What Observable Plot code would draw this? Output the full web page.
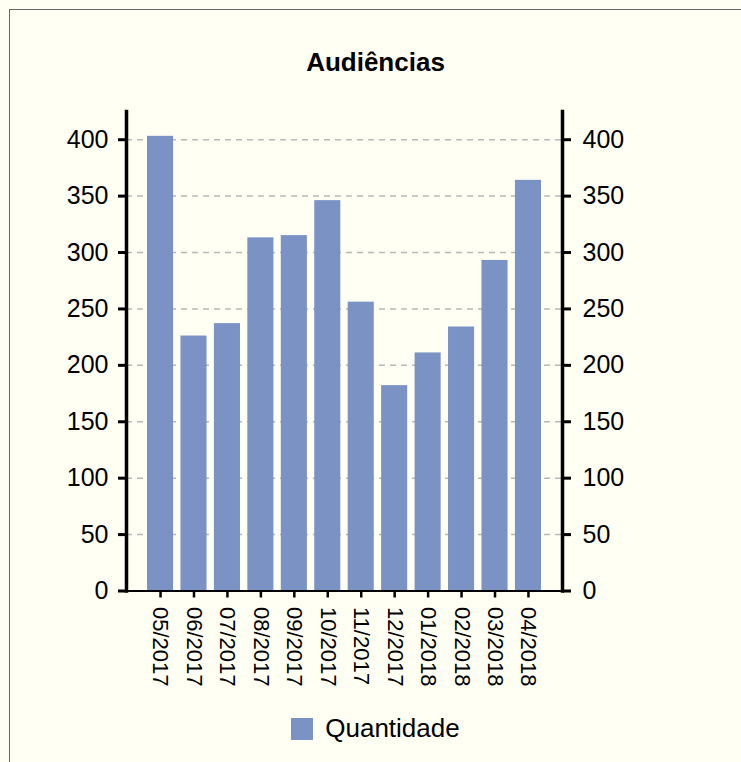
<!DOCTYPE html>
<html>
<head>
<meta charset="utf-8">
<script src="https://cdn.jsdelivr.net/npm/d3@7"></script>
<script src="https://cdn.jsdelivr.net/npm/@observablehq/plot@0.6"></script>
<style>
  html, body { margin: 0; padding: 0; background: #fffff3; width: 741px; height: 762px; overflow: hidden; font-family: "Liberation Sans", Arial, sans-serif; }
  #frame { position: absolute; left: 9px; top: 9px; width: 800px; height: 800px; border-left: 1.5px solid #666; border-top: 1.5px solid #666; background: #fffff3; }
  #title { position: absolute; left: 10px; width: 731px; top: 47px; text-align: center; font-weight: bold; font-size: 26px; color: #000; }
  #chart { position: absolute; left: 0; top: 100px; }
  #legend { position: absolute; left: 10px; width: 731px; top: 713px; text-align: center; font-size: 26px; color: #000; }
  #legend .sw { display: inline-block; width: 22px; height: 22px; background: #7b92c5; vertical-align: -3px; margin-right: 12px; }
</style>
</head>
<body>
<div id="frame"></div>
<div id="title">Audiências</div>
<div id="chart"></div>
<div id="legend"><span class="sw"></span>Quantidade</div>
<script>
const months = ["05/2017","06/2017","07/2017","08/2017","09/2017","10/2017","11/2017","12/2017","01/2018","02/2018","03/2018","04/2018"];
const quantidade = [403, 226, 237, 313, 315, 346, 256, 182, 211, 234, 293, 364];
const yTicks = [0, 50, 100, 150, 200, 250, 300, 350, 400];
const seriesName = "Quantidade";
const barColor = "#7b92c5";

const data = months.map((m, i) => ({month: m, value: quantidade[i]}));

const chart = Plot.plot({
  width: 741,
  height: 590,
  marginLeft: 126,
  marginRight: 179,
  marginTop: 11,
  marginBottom: 99.5,
  style: {background: "transparent", fontFamily: "'Liberation Sans', Arial, sans-serif", color: "#000"},
  x: {type: "band", domain: months, paddingInner: 0.22, paddingOuter: 0, round: false, insetLeft: 21, insetRight: 21, label: null},
  y: {domain: [0, 425], label: null},
  marks: [
    Plot.gridY(yTicks, {stroke: "#b8b8b8", strokeOpacity: 1, strokeWidth: 1.5, strokeDasharray: "6,5"}),
    Plot.barY(data, {x: "month", y: "value", fill: barColor}),
    Plot.ruleY([0], {stroke: "#000", strokeWidth: 2}),
    Plot.frame({anchor: "left", stroke: "#000", strokeWidth: 3.5}),
    Plot.frame({anchor: "right", stroke: "#000", strokeWidth: 3.5}),
    Plot.axisY(yTicks, {anchor: "left", tickSize: 8, tickPadding: 10, fontSize: 25, strokeWidth: 3, label: null}),
    Plot.axisY(yTicks, {anchor: "right", tickSize: 8, tickPadding: 12, fontSize: 25, strokeWidth: 3, label: null}),
    Plot.axisX({anchor: "bottom", tickSize: 7, tickPadding: 9, tickRotate: 90, fontSize: 22, strokeWidth: 2.5, label: null})
  ]
});
document.getElementById("chart").appendChild(chart);
</script>
</body>
</html>
